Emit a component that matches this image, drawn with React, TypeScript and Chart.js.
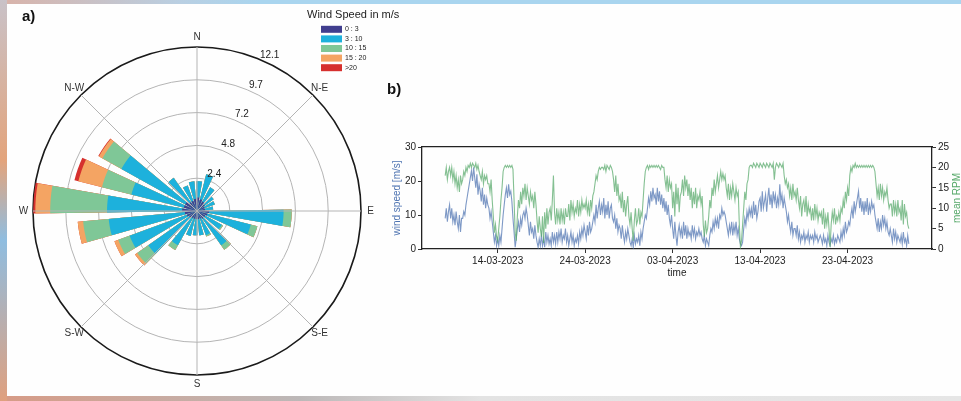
import React, { useEffect, useRef } from 'react';
import { Chart, registerables } from 'chart.js';

Chart.register(...registerables);
// make the per-element "angle" option resolvable for polar area arcs
(Chart.defaults.elements.arc as any).angle = 0;

const FONT = '"Liberation Sans", Arial, Helvetica, sans-serif';
const TEXT = '#222222';

// ---------------- (a) wind rose ----------------
const SECTOR_COUNT = 24;
const FIRST_SECTOR_BEARING = 4.5; // degrees, centre of first sector
const BAR_OPENING = 0.72;
const SPEED_BINS = ['0 : 3', '3 : 10', '10 : 15', '15 : 20', '>20'];
const SPEED_COLORS = ['#403e8e', '#1db1dc', '#7fc797', '#f4a463', '#d6302e'];
const LEGEND_TITLE = 'Wind Speed in m/s';
// frequency (%) per sector, sector k centred on FIRST_SECTOR_BEARING + k*15
const FREQ_0_3 = [1.0, 0.9, 0.8, 0.7, 0.6, 0.6, 0.9, 0.8, 0.7, 0.7, 0.6, 0.6, 0.6, 0.6, 0.6, 0.7, 0.8, 0.9, 1.1, 1.0, 1.0, 0.8, 0.8, 0.9];
const FREQ_3_10 = [1.2, 1.9, 1.2, 0.8, 0.8, 0.6, 5.5, 3.3, 1.4, 2.4, 1.3, 1.2, 1.2, 1.3, 2.3, 3.7, 4.5, 5.65, 5.55, 4.0, 5.4, 2.2, 1.2, 1.3];
const FREQ_10_15 = [0, 0, 0, 0, 0, 0, 0.6, 0.5, 0.1, 0.4, 0.1, 0, 0, 0, 0.4, 1.0, 0.9, 1.9, 4.2, 2.24, 1.6, 0, 0, 0];
const FREQ_15_20 = [0, 0, 0, 0, 0, 0, 0, 0, 0, 0, 0, 0, 0, 0, 0, 0.2, 0.3, 0.4, 1.1, 1.8, 0.3, 0, 0, 0];
const FREQ_OVER_20 = [0, 0, 0, 0, 0, 0, 0, 0, 0, 0, 0, 0, 0, 0, 0, 0, 0, 0, 0.15, 0.3, 0.05, 0, 0, 0];
const R_MAX = 12.12;
const R_TICKS = [2.424, 4.848, 7.272, 9.696, 12.12];
const R_TICK_LABELS = ['2.4', '4.8', '7.2', '9.7', '12.1'];
const COMPASS_LABELS = ['N', 'N-E', 'E', 'S-E', 'S', 'S-W', 'W', 'N-W'];

// ---------------- (b) time series ----------------
// day numbers counted from 1 March 2023 (= day 0), 3-hour steps (8 per day)
const TS_START_DAY = 7;
const TS_STEP_DAYS = 0.125;
const WIND_SPEED = [
  9, 12, 8, 11, 13, 9, 12, 8, // 8 Mar
  10, 7, 11, 8, 6, 10, 5, 9,
  9, 11, 10, 13, 15, 17, 19, 21,
  23, 20, 24, 21, 18, 22, 16, 19,
  17, 14, 18, 13, 16, 12, 15, 13,
  12, 9, 11, 8, 5, 2, 4, 1,
  3, 1, 4, 2, 6, 10, 13, 16,
  18, 15, 19, 16, 17, 14, 9, 5,
  0.5, 3, 6, 8, 5, 9, 7, 10,
  11, 9, 12, 10, 7, 4, 8, 5,
  6, 3, 7, 4, 2, 0.5, 3, 1,
  4, 1, 3, 0.5, 5, 2, 4, 1.5,
  3, 1, 5, 2, 4, 1.5, 5, 2,
  5, 3, 6, 2, 4, 3, 6, 2,
  4, 1, 3, 5, 2, 4, 1, 3,
  2, 4, 1.5, 5, 3, 6, 4, 7,
  5, 3, 7, 4, 8, 5, 6, 8,
  10, 8, 13, 9, 12, 14, 10, 13,
  11, 15, 9, 13, 10, 14, 9, 12,
  13, 9, 8, 10, 6, 9, 5, 7,
  6, 3, 7, 4, 2, 5, 3, 6,
  4, 2, 1, 3, 0.5, 4, 1.5, 3,
  2, 4, 1, 5, 3, 6, 8, 10,
  9, 12, 15, 13, 17, 14, 18, 15,
  16, 13, 18, 14, 17, 13, 16, 12,
  15, 11, 14, 10, 13, 9, 7, 10,
  6, 3, 8, 4, 1, 5, 7, 4,
  6, 3, 8, 4, 7, 3, 6, 4,
  5, 3, 7, 4, 6, 3, 5, 4,
  6, 4, 5, 3, 2, 4, 1, 3,
  2, 1, 4, 6, 5, 8, 6, 9,
  7, 9, 6, 10, 9, 12, 10, 11,
  10, 8, 6, 4, 7, 5, 8, 4,
  7, 5, 8, 4, 6, 3, 1.5, 1,
  2, 6, 9, 7, 11, 9, 12, 10,
  12, 9, 14, 10, 13, 9, 11, 14,
  15, 11, 17, 12, 14, 16, 11, 15,
  18, 13, 16, 12, 17, 14, 16, 12,
  15, 13, 19, 14, 16, 12, 15, 13,
  11, 8, 10, 7, 5, 8, 4, 6,
  6, 4, 7, 3, 5, 2, 4, 3,
  5, 2, 4, 3, 5, 2, 4, 3,
  4, 2, 5, 3, 4, 2, 3, 4,
  3, 1.5, 4, 2, 3, 1, 4, 2,
  1, 3, 2, 4, 1.5, 3, 2, 4,
  3, 2, 5, 3, 6, 4, 8, 5,
  6, 8, 7, 10, 12, 9, 14, 11,
  13, 15, 17, 12, 15, 11, 14, 10,
  14, 11, 15, 10, 13, 11, 14, 12,
  13, 10, 8, 6, 9, 5, 8, 6,
  10, 7, 9, 6, 8, 5, 4, 6,
  4, 2, 6, 3, 5, 2, 4, 3,
  2, 4, 1.5, 5, 2, 3, 1, 4,
  1.5,
];
const MEAN_RPM = [
  18, 20, 17, 19, 20, 18, 20, 17, // 8 Mar
  19, 16, 18, 15, 17, 14, 18, 16,
  17, 19, 18, 20, 19, 20.5, 20, 21,
  20, 21, 20.5, 20, 21, 19.5, 20.5, 19,
  18, 17, 19, 16, 18, 17, 18, 16,
  16, 14, 17, 12, 8, 4, 6, 3,
  2, 5, 8, 12, 15, 19, 20, 20.5,
  20, 20.5, 20, 20.5, 20, 20.5, 19.5, 12,
  4, 2, 8, 12, 10, 14, 11, 15,
  13, 16, 12, 15, 13, 11, 14, 12,
  13, 10, 14, 11, 7, 4, 8, 5,
  3, 8, 1.5, 9, 5, 10, 6, 9,
  10, 7, 12, 18, 9, 6, 10, 7,
  9, 6, 10, 7, 9, 6, 10, 8,
  8, 11, 7, 12, 9, 11, 8, 10,
  9, 12, 8, 11, 9, 12, 10, 11,
  10, 12, 9, 11, 8, 12, 10, 13,
  14, 16, 18, 17, 19, 20, 19.5, 20,
  20, 19.5, 20.5, 19, 20.5, 20, 19.5, 20.5,
  20, 19, 17, 14, 18, 13, 16, 12,
  13, 10, 14, 9, 12, 8, 11, 13,
  8, 6, 9, 5, 2, 7, 10, 6,
  7, 10, 6, 9, 8, 12, 16, 19,
  20, 20.5, 19.5, 20.5, 20, 20.5, 20, 20.5,
  20, 20.5, 20, 20.5, 20, 19.5, 20.5, 20,
  20, 17, 15, 18, 14, 17, 15, 16,
  10, 14, 8, 16, 11, 15, 9, 13,
  14, 17, 13, 18, 15, 17, 13, 16,
  12, 15, 10, 14, 11, 15, 10, 13,
  12, 14, 11, 13, 6, 3, 7, 4,
  5, 8, 12, 10, 15, 13, 17, 14,
  16, 18, 15, 17, 19, 17, 18.5, 17,
  18, 15, 13, 16, 12, 15, 13, 16,
  14, 12, 15, 13, 14, 6, 0.5, 2,
  6, 10, 14, 12, 16, 17, 20, 20.5,
  20.5, 20, 21, 20.5, 20, 21, 20.5, 20,
  21, 20.5, 20, 21, 20.5, 20, 21, 20.5,
  20, 21, 20.5, 20, 21, 17, 20, 21,
  20.5, 20, 21, 20.5, 20, 21, 18, 16,
  17, 15, 16, 13, 15, 12, 16, 13,
  14, 12, 15, 12, 10, 13, 8, 11,
  12, 9, 13, 8, 11, 9, 10, 7,
  10, 7, 11, 8, 10, 7, 9, 8,
  9, 6, 10, 5, 8, 6, 9, 5,
  0.5, 6, 9, 7, 10, 6, 8, 7,
  9, 7, 10, 9, 12, 10, 14, 12,
  15, 13, 18, 20, 19, 20.5, 20, 21,
  20, 20.5, 20, 20.5, 20, 20.5, 20, 20.5,
  20, 20.5, 20, 20.5, 20, 20.5, 20, 20.5,
  20, 19, 16, 13, 15, 12, 16, 13,
  15, 12, 14, 13, 15, 12, 10, 11,
  11, 8, 12, 9, 11, 8, 12, 9,
  10, 7, 12, 6, 11, 8, 9, 6,
  5,
];
const X_MIN_DAY = 4.35;
const X_MAX_DAY = 62.65;
const DATE_TICK_DAYS = [13, 23, 33, 43, 53];
const DATE_TICK_LABELS = ['14-03-2023', '24-03-2023', '03-04-2023', '13-04-2023', '23-04-2023'];
const WIND_COLOR = 'rgba(76,114,176,0.72)';
const RPM_COLOR = 'rgba(85,168,104,0.72)';

function RoseChart() {
  const ref = useRef<HTMLCanvasElement>(null);
  useEffect(() => {
    const step = 360 / SECTOR_COUNT;
    const barAngle = step * BAR_OPENING;
    const gapAngle = step - barAngle;
    const bins = [FREQ_0_3, FREQ_3_10, FREQ_10_15, FREQ_15_20, FREQ_OVER_20];
    const labels: string[] = [];
    for (let k = 0; k < SECTOR_COUNT; k++) {
      labels.push(String(FIRST_SECTOR_BEARING + k * step), '');
    }
    const datasets = bins.map((_, j) => {
      const data: number[] = [];
      for (let k = 0; k < SECTOR_COUNT; k++) {
        let cum = 0;
        for (let i = 0; i <= j; i++) cum += bins[i][k];
        data.push(cum, 0);
      }
      return {
        label: SPEED_BINS[j],
        data,
        backgroundColor: SPEED_COLORS[j],
        borderWidth: 0,
        angle: (c: any) => (c.dataIndex % 2 === 0 ? barAngle : gapAngle),
      };
    });

    const decor = {
      id: 'roseDecor',
      afterDatasetsDraw(chart: any) {
        const s = chart.scales.r;
        const ctx = chart.ctx;
        const cx = s.xCenter, cy = s.yCenter, R = s.drawingArea;
        ctx.save();
        ctx.strokeStyle = '#b4b4b4';
        ctx.lineWidth = 1;
        for (let i = 0; i < 8; i++) {
          const a = (i * 45 * Math.PI) / 180;
          ctx.beginPath();
          ctx.moveTo(cx, cy);
          ctx.lineTo(cx + R * Math.sin(a), cy - R * Math.cos(a));
          ctx.stroke();
        }
        ctx.restore();
      },
      afterDraw(chart: any) {
        const s = chart.scales.r;
        const ctx = chart.ctx;
        const cx = s.xCenter, cy = s.yCenter, R = s.drawingArea;
        ctx.save();
        ctx.fillStyle = '#333';
        ctx.font = `10px ${FONT}`;
        ctx.textAlign = 'center';
        ctx.textBaseline = 'middle';
        COMPASS_LABELS.forEach((lab, i) => {
          const a = (i * 45 * Math.PI) / 180;
          const rr = R + 9.5;
          ctx.fillText(lab, cx + rr * Math.sin(a), cy - rr * Math.cos(a));
        });
        ctx.fillStyle = TEXT;
        const la = (25 * Math.PI) / 180;
        R_TICKS.forEach((v, i) => {
          const rr = s.getDistanceFromCenterForValue(v) + 8;
          ctx.fillText(R_TICK_LABELS[i], cx + rr * Math.sin(la), cy - rr * Math.cos(la));
        });
        ctx.font = `bold 15px ${FONT}`;
        ctx.textAlign = 'left';
        ctx.fillStyle = '#111';
        ctx.fillText('a)', 22, 17);
        ctx.font = `11px ${FONT}`;
        ctx.fillStyle = TEXT;
        ctx.fillText(LEGEND_TITLE, 307, 15);
        ctx.font = `7px ${FONT}`;
        SPEED_BINS.forEach((lab, i) => {
          const y = 29.3 + i * 9.6;
          ctx.fillStyle = SPEED_COLORS[i];
          ctx.fillRect(321, y - 3.5, 21, 7);
          ctx.fillStyle = TEXT;
          ctx.fillText(lab, 345, y);
        });
        ctx.restore();
      },
    };

    const chart = new Chart(ref.current!, {
      type: 'polarArea',
      data: { labels, datasets: datasets as any },
      options: {
        responsive: false,
        animation: false,
        layout: { padding: { left: 33, top: 47, right: 39, bottom: 26 } },
        plugins: { legend: { display: false }, tooltip: { enabled: false } },
        scales: {
          r: {
            min: 0,
            max: R_MAX,
            startAngle: FIRST_SECTOR_BEARING - barAngle / 2,
            ticks: { display: false, z: 1 } as any,
            afterBuildTicks: (sc: any) => {
              sc.ticks = [0, ...R_TICKS].map((v) => ({ value: v }));
            },
            grid: {
              circular: true,
              color: (c: any) => (c.index === R_TICKS.length ? '#1a1a1a' : '#b4b4b4'),
              lineWidth: (c: any) => (c.index === R_TICKS.length ? 1.6 : 1),
            },
            angleLines: { display: false },
            pointLabels: { display: false },
          },
        },
      } as any,
      plugins: [decor],
    });
    return () => chart.destroy();
  }, []);
  return (
    <canvas
      ref={ref}
      width={400}
      height={401}
      style={{ position: 'absolute', left: 0, top: 0, width: 400, height: 401 }}
    />
  );
}

function SeriesChart() {
  const ref = useRef<HTMLCanvasElement>(null);
  useEffect(() => {
    const wind = WIND_SPEED.map((v, i) => ({ x: TS_START_DAY + i * TS_STEP_DAYS, y: v }));
    const rpm = MEAN_RPM.map((v, i) => ({ x: TS_START_DAY + i * TS_STEP_DAYS, y: v }));
    const tickFont = { family: FONT, size: 10 };
    const axisGrid = { drawOnChartArea: false, drawTicks: true, tickLength: 4, tickColor: '#333', tickWidth: 1 };
    const axisBorder = { display: true, color: '#222', width: 1.3 };

    const decor = {
      id: 'seriesDecor',
      afterDraw(chart: any) {
        const ctx = chart.ctx;
        const area = chart.chartArea;
        ctx.save();
        ctx.font = `bold 15px ${FONT}`;
        ctx.fillStyle = '#111';
        ctx.textAlign = 'left';
        ctx.textBaseline = 'middle';
        ctx.fillText('b)', 7, 30);
        ctx.translate(577, (area.top + area.bottom) / 2);
        ctx.rotate(-Math.PI / 2);
        ctx.font = `10px ${FONT}`;
        ctx.fillStyle = '#55a868';
        ctx.textAlign = 'center';
        ctx.fillText('mean RPM', 0, 0);
        ctx.restore();
      },
    };

    const chart = new Chart(ref.current!, {
      type: 'line',
      data: {
        datasets: [
          { label: 'wind speed', data: wind, yAxisID: 'y', borderColor: WIND_COLOR, borderWidth: 1.1, pointRadius: 0, order: 1 },
          { label: 'mean RPM', data: rpm, yAxisID: 'y1', borderColor: RPM_COLOR, borderWidth: 1.1, pointRadius: 0, order: 0 },
        ],
      },
      options: {
        responsive: false,
        animation: false,
        layout: { padding: { top: 87, left: 0, right: 0, bottom: 0 } },
        plugins: { legend: { display: false }, tooltip: { enabled: false } },
        scales: {
          x: {
            type: 'linear',
            position: 'bottom',
            min: X_MIN_DAY,
            max: X_MAX_DAY,
            afterBuildTicks: (sc: any) => {
              sc.ticks = DATE_TICK_DAYS.map((v) => ({ value: v }));
            },
            ticks: {
              font: tickFont,
              color: TEXT,
              padding: 2,
              maxRotation: 0,
              autoSkip: false,
              callback: (_v: any, i: number) => DATE_TICK_LABELS[i],
            },
            grid: axisGrid,
            border: axisBorder,
            title: { display: true, text: 'time', font: tickFont, color: TEXT, padding: { top: 0, bottom: 11 } },
            afterFit: (sc: any) => {
              sc.height = 41;
            },
          },
          xTop: {
            type: 'linear',
            position: 'top',
            min: X_MIN_DAY,
            max: X_MAX_DAY,
            ticks: { display: false },
            grid: { drawOnChartArea: false, drawTicks: false },
            border: axisBorder,
            afterFit: (sc: any) => {
              sc.height = 0;
            },
          },
          y: {
            position: 'left',
            min: 0,
            max: 30,
            ticks: { stepSize: 10, font: tickFont, color: TEXT, padding: 2 },
            grid: axisGrid,
            border: axisBorder,
            title: { display: true, text: 'wind speed [m/s]', font: tickFont, color: '#4c72b0', padding: { top: 11, bottom: 0 } },
            afterFit: (sc: any) => {
              sc.width = 42;
            },
          },
          y1: {
            position: 'right',
            min: 0,
            max: 25,
            ticks: { stepSize: 5, font: tickFont, color: TEXT, padding: 2 },
            grid: axisGrid,
            border: axisBorder,
            afterFit: (sc: any) => {
              sc.width = 29;
            },
          },
        },
      } as any,
      plugins: [decor],
    });
    return () => chart.destroy();
  }, []);
  return (
    <canvas
      ref={ref}
      width={581}
      height={230}
      style={{ position: 'absolute', left: 380, top: 60, width: 581, height: 230 }}
    />
  );
}

export default function App() {
  return (
    <div
      style={{
        position: 'fixed',
        left: 0,
        top: 0,
        width: 961,
        height: 401,
        overflow: 'hidden',
        background: 'linear-gradient(90deg, #d9b2a8 0px, #b9cfe2 180px, #a9d5ef 260px, #a9d5ef 961px)',
      }}
    >
      <div
        style={{
          position: 'absolute',
          left: 0,
          top: 396,
          width: 961,
          height: 5,
          background: 'linear-gradient(90deg, #d79b86 0px, #bcb8b8 300px, #e3e3e3 480px, #e6e6e6 961px)',
        }}
      />
      <div style={{ position: 'absolute', left: 0, top: 0, width: 7, height: 401, background: 'linear-gradient(180deg, #c9c2c8, #e3a47c 40%, #8fbde0 60%, #e0a07e)' }} />
      <div style={{ position: 'absolute', left: 7, top: 4, width: 954, height: 392, background: '#fefefe' }} />
      <RoseChart />
      <SeriesChart />
    </div>
  );
}
